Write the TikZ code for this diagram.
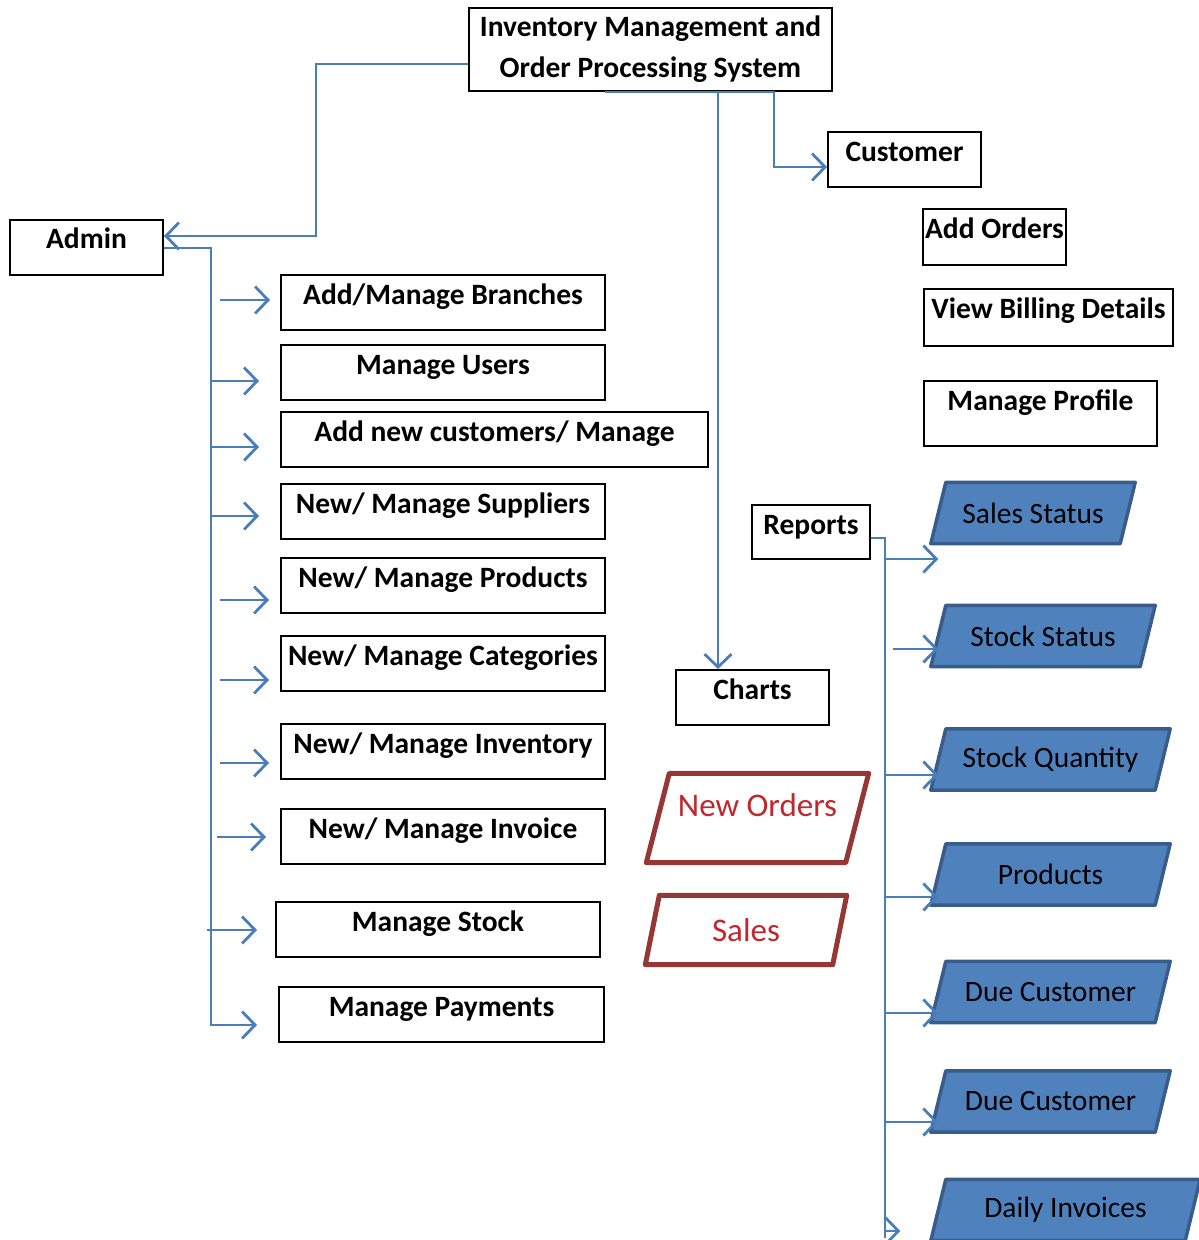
\documentclass[tikz,border=0pt]{standalone}
\usepackage{fontspec}
\setmainfont{Carlito}
\usetikzlibrary{positioning,backgrounds,arrows.meta}
\definecolor{linkblue}{HTML}{4A7EBB}
\definecolor{parfill}{HTML}{4F81BD}
\definecolor{pardraw}{HTML}{385D8A}
\definecolor{chartred}{HTML}{953735}
\definecolor{charttext}{HTML}{C0282D}

\begin{document}
\begin{tikzpicture}[
    x=1pt, y=-1pt,
    box/.style={draw, line width=2pt, inner sep=0pt, text height=29pt, text depth=26pt, font=\fontsize{29.5}{34}\selectfont\bfseries},
    titlebox/.style={draw, line width=2pt, inner sep=0pt, align=center, minimum width=363pt, minimum height=83pt, font=\fontsize{29.5}{41}\selectfont\bfseries},
    repbox/.style={inner sep=0pt, minimum height=61pt, font=\fontsize{29.5}{34}\selectfont},
    repshape/.style={draw=pardraw, fill=parfill, line width=3.5pt, line join=round},
    chartbox/.style={inner sep=0pt, text=charttext, font=\fontsize{33}{38}\selectfont},
    chartshape/.style={draw=chartred, fill=white, line width=5pt, line join=round},
    link/.style={draw=linkblue, line width=2.8pt},
    arr/.style={-{Straight Barb[length=13pt,width=27pt]}}
]
\useasboundingbox (0,0) rectangle (1199,1240);

% top and first level
\node[titlebox] (ims) at (650.5,49.5) {Inventory Management and\\Order Processing System};
\node[box, minimum width=153pt] (admin) at (86.5,247) {Admin};
\node[box, minimum width=153pt] (customer) at (904.5,159.5) {Customer};
\node[box, minimum width=153pt] (charts) at (752.5,697.5) {Charts};
\node[box, minimum width=118pt, text depth=25pt] (reports) at (811,532) {Reports};

% customer side
\node[box, minimum width=143pt, text depth=27pt] (addord) at (994.5,237) {Add Orders};
\node[box, minimum width=249pt, text depth=28pt] (billing) at (1048.5,317.5) {View Billing Details};
\node[box, minimum width=233pt, text depth=36pt] (profile) at (1040.5,413.5) {Manage Profile};

% admin side
\node[box, minimum width=324pt] (branch) at (443,302.5) {Add/Manage Branches};
\node[box, minimum width=324pt] (users) at (443,372.5) {Manage Users};
\node[box, minimum width=427pt] (cust) at (494.5,439.5) {Add new customers/ Manage};
\node[box, minimum width=324pt] (supp) at (443,511.5) {New/ Manage Suppliers};
\node[box, minimum width=324pt] (prod) at (443,585.5) {New/ Manage Products};
\node[box, minimum width=324pt] (cat) at (443,663.5) {New/ Manage Categories};
\node[box, minimum width=324pt] (inv) at (443,751.5) {New/ Manage Inventory};
\node[box, minimum width=324pt] (invoice) at (443,836.5) {New/ Manage Invoice};
\node[box, minimum width=324pt] (stock) at (438,929.5) {Manage Stock};
\node[box, minimum width=325pt] (payments) at (441.5,1014.5) {Manage Payments};

% charts
\node[chartbox, minimum width=199pt, minimum height=89pt, text height=20pt, text depth=24pt] (neword) at (757.5,818) {New Orders};
\node[chartbox, minimum width=187pt, minimum height=69pt] (sales) at (746,930) {Sales};

% reports
\foreach \n/\cx/\cy/\w/\t in {salesst/1033/513/189/Sales Status, stockst/1043/636/209/Stock Status, stockq/1050.5/759.5/224/Stock Quantity, prods/1050.5/874.5/224/Products, due1/1050.5/992/224/Due Customer, due2/1050.5/1101.5/224/Due Customer, daily/1065.5/1210/254/Daily Invoices}
  \node[repbox, minimum width=\w pt] (\n) at (\cx,\cy) {\t};

% slanted outlines behind the texts
\begin{scope}[on background layer]
\foreach \n in {salesst, stockst, stockq, prods, due1, due2, daily}
  \draw[repshape] ([xshift=-7.5pt]\n.south west) -- ([xshift=7.5pt]\n.north west) -- ([xshift=7.5pt]\n.north east) -- ([xshift=-7.5pt]\n.south east) -- cycle;
\foreach \n/\s in {neword/11.5pt, sales/7pt}
  \draw[chartshape] ([xshift=-\s]\n.south west) -- ([xshift=\s]\n.north west) -- ([xshift=\s]\n.north east) -- ([xshift=-\s]\n.south east) -- cycle;
\end{scope}

% connectors from the system box
\draw[link, arr] (ims.west |- 0,64) -| (316,236) -- (admin.east |- 0,236);
\draw[link, arr] ([xshift=-45.5pt]ims.south) -- (774,92) |- (customer.west |- 0,167);
\draw[link, arr] (ims.south -| 718,0) -- (charts.north -| 718,0);

% admin branch
\draw[link, arr, shorten >=21pt] (admin.east |- 0,248) -| (211,1025) -- (payments.west |- 0,1025);
\foreach \b/\xs/\ya/\gap in {branch/220/300/10pt, users/211/381/21pt, cust/211/447/21pt, supp/211/516/21pt, prod/220/600/11pt, cat/220/680/11pt, inv/220/763/11pt, invoice/217/837/14pt, stock/207/930/18pt}
  \draw[link, arr, shorten >=\gap] (\xs,\ya) -- (\b.west |- 0,\ya);

% reports branch
\draw[link] (reports.east |- 0,538) -| (885,1238);
\foreach \b/\xs/\ya/\gap in {salesst/885/559/0pt, stockst/893/649/0pt, stockq/885/775/0pt, prods/885/897/0pt, due1/885/1013/0pt, due2/885/1122/0pt, daily/885/1231/38pt}
  \draw[link, arr, shorten >=\gap] (\xs,\ya) -- (\b.west |- 0,\ya);
\end{tikzpicture}
\end{document}
